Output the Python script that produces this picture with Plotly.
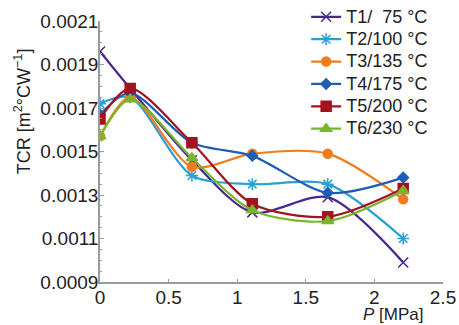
import plotly.graph_objects as go

pressure = [0, 0.22, 0.67, 1.11, 1.66, 2.21]
t1 = [0.00196, 0.00179, 0.00146, 0.00122, 0.00129, 0.00099]
t2 = [0.00172, 0.00175, 0.00139, 0.00135, 0.00135, 0.00110]
t3 = [0.00157, 0.00175, 0.00143, 0.00149, 0.00149, 0.00128]
t4 = [0.00167, 0.00177, 0.00154, 0.00148, 0.00131, 0.00138]
t5 = [0.00165, 0.00179, 0.00154, 0.00126, 0.00120, 0.00133]
t6 = [0.00157, 0.00174, 0.00147, 0.00123, 0.00118, 0.00132]
names = ["T1/  75 °C", "T2/100 °C", "T3/135 °C", "T4/175 °C", "T5/200 °C", "T6/230 °C"]
series = [t1, t2, t3, t4, t5, t6]
x_ticks = [0, 0.5, 1, 1.5, 2, 2.5]
y_ticks = [0.0009, 0.0011, 0.0013, 0.0015, 0.0017, 0.0019, 0.0021]

colors = ["#46288f", "#2b9fd3", "#ef7d1e", "#1f5db5", "#a3121f", "#7bb52e"]
symbols = ["x-thin-open", "asterisk-open", "circle", "diamond", "square", "triangle-up"]
sizes = [10, 10, 9, 8, 10, 10]

fig = go.Figure()
for name, ys, c, s, sz in zip(names, series, colors, symbols, sizes):
    fig.add_trace(go.Scatter(
        x=pressure, y=ys, mode="lines+markers",
        name=f"<span style='font-size:18px'>{name}</span>",
        line=dict(color=c, width=2.2, shape="spline", smoothing=0.8),
        marker=dict(symbol=s, size=sz, color=c, line=dict(color=c, width=1.5)),
    ))

font = "Liberation Sans, Arial, sans-serif"
fig.update_layout(
    width=459, height=325,
    margin=dict(l=100, r=16, t=21, b=43, autoexpand=False),
    paper_bgcolor="white", plot_bgcolor="white",
    font=dict(family=font, size=18, color="#222"),
    showlegend=True,
    legend=dict(x=0.601, y=1.078, xanchor="left", yanchor="top",
                bgcolor="rgba(0,0,0,0)", font=dict(size=14.9),
                tracegroupgap=0),
    xaxis=dict(range=[0, 2.5], tickvals=x_ticks,
               ticktext=[f"{v:g}" for v in x_ticks],
               showgrid=False, zeroline=False, showline=True, automargin=False,
               linecolor="#9a9a9a", linewidth=1.5, ticks="inside",
               tickcolor="#9a9a9a", ticklen=3, ticklabelstandoff=-3,
               tickfont=dict(size=19)),
    yaxis=dict(range=[0.0009, 0.0021], tickvals=y_ticks,
               ticktext=[f"{v:.4f}" for v in y_ticks],
               showgrid=False, zeroline=False, showline=True, automargin=False,
               linecolor="#9a9a9a", linewidth=1.5, ticks="inside",
               tickcolor="#9a9a9a", ticklen=4, ticklabelstandoff=-4,
               minor=dict(ticks="inside", ticklen=2, tickcolor="#9a9a9a", nticks=5),
               tickfont=dict(size=19)),
)
fig.add_annotation(text="TCR [m<sup>2</sup>°CW<sup>−1</sup>]", xref="paper", yref="paper",
                   x=-0.227, y=0.655, xanchor="center", yanchor="middle", textangle=-90,
                   showarrow=False, font=dict(size=18, family=font))
fig.add_annotation(text="<i>P</i> [MPa]", xref="paper", yref="paper",
                   x=0.854, y=-0.123, xanchor="center", yanchor="middle",
                   showarrow=False, font=dict(size=17, family=font))
fig.write_html("out.html", config={"displayModeBar": False},
               post_script="document.body.style.margin='0px';")
